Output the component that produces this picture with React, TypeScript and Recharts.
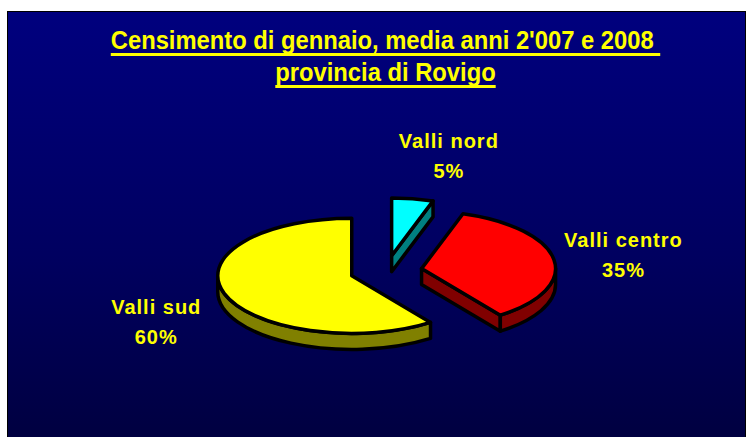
// App.tsx

import { PieChart, Pie } from "recharts"

// Dati del censimento (quote percentuali)
const zone = ["Valli sud", "Valli centro", "Valli nord"]
const quote = [60, 35, 5]
const titleLines = ["Censimento di gennaio, media anni 2'007 e 2008\u00a0", "provincia di Rovigo"]

const data = zone.map((name, i) => ({ name, value: quote[i] }))

// colori: superficie e fianco
const topColors = ["#FFFF00", "#FF0000", "#00FFFF"]
const sideColors = ["#808000", "#800000", "#008080"]

const TILT = 0.43 // schiacciamento dell'ellisse
const DEPTH = 16
const EXPLODE = 36
const RAD = Math.PI / 180

function renderSlice(props: any) {
  const { cx, cy, startAngle, endAngle, midAngle, outerRadius, index, payload, percent } = props
  const rx = outerRadius
  const ry = outerRadius * TILT
  // vertice spostato lungo l'angolo medio
  const vx = cx + EXPLODE * Math.cos(midAngle * RAD)
  const vy = cy - EXPLODE * TILT * Math.sin(midAngle * RAD)
  const pt = (a: number, dz = 0) => [vx + rx * Math.cos(a * RAD), vy - ry * Math.sin(a * RAD) + dz]
  const s = Math.min(startAngle, endAngle)
  const e = Math.max(startAngle, endAngle)

  const faces: JSX.Element[] = []
  const stroke = { stroke: "#000", strokeWidth: 3.5, strokeLinejoin: "round" as const }

  // facce di taglio visibili
  const cut = (a: number, key: string) => {
    const [px, py] = pt(a)
    faces.push(
      <path
        key={key}
        d={`M${vx},${vy} L${px},${py} L${px},${py + DEPTH} L${vx},${vy + DEPTH} Z`}
        fill={sideColors[index]}
        {...stroke}
      />
    )
  }
  if (Math.cos(s * RAD) > 0.01) cut(s, "cs")
  if (Math.cos(e * RAD) < -0.01) cut(e, "ce")

  // parete esterna (metà anteriore)
  ;[[180, 360], [540, 720]].forEach(([lo, hi], k) => {
    const a = Math.max(s, lo)
    const b = Math.min(e, hi)
    if (b - a > 0.5) {
      const [ax, ay] = pt(a)
      const [bx, by] = pt(b)
      const large = b - a > 180 ? 1 : 0
      faces.push(
        <path
          key={`w${k}`}
          d={`M${ax},${ay} A${rx},${ry} 0 ${large} 0 ${bx},${by} L${bx},${by + DEPTH} A${rx},${ry} 0 ${large} 1 ${ax},${ay + DEPTH} Z`}
          fill={sideColors[index]}
          {...stroke}
        />
      )
    }
  })

  // superficie
  const [sx, sy] = pt(s)
  const [ex, ey] = pt(e)
  const large = e - s > 180 ? 1 : 0
  faces.push(
    <path
      key="top"
      d={`M${vx},${vy} L${sx},${sy} A${rx},${ry} 0 ${large} 0 ${ex},${ey} Z`}
      fill={topColors[index]}
      {...stroke}
    />
  )

  // etichetta
  const c = Math.cos(midAngle * RAD)
  const sn = Math.sin(midAngle * RAD)
  const lx = cx + 210 * c + 30 * Math.sign(c)
  const ly = cy - 118 * sn + (sn < 0 ? 13 : 0)
  return (
    <g key={`slice-${index}`}>
      {faces}
      <text
        x={lx}
        y={ly - 6}
        textAnchor="middle"
        fill="#FFFF00"
        fontFamily="'Liberation Sans', Arial, sans-serif"
        fontWeight="bold"
        fontSize={20}
        letterSpacing={1}
      >
        <tspan x={lx}>{payload.name}</tspan>
        <tspan x={lx} dy={30}>{`${Math.round(percent * 100)}%`}</tspan>
      </text>
    </g>
  )
}

export default function App() {
  return (
    <div style={{ position: "absolute", left: 0, top: 0, width: 746, height: 437, background: "#fff", overflow: "hidden" }}>
      <div
        style={{
          position: "absolute",
          left: 7,
          top: 11,
          width: 737,
          height: 440,
          border: "1px solid #000",
          background: "linear-gradient(to bottom, #00007E 0%, #000060 55%, #00003E 100%)",
        }}
      >
        <div
          style={{
            position: "absolute",
            left: 9,
            top: 12,
            width: 737,
            textAlign: "center",
            color: "#FFFF00",
            fontFamily: "'Liberation Sans Narrow', 'Arial Narrow', 'Liberation Sans', sans-serif",
            fontWeight: "bold",
            fontSize: 25,
            lineHeight: "32px",
            transform: "scaleX(0.95)",
            textDecoration: "underline",
            textDecorationThickness: "3px",
            textUnderlineOffset: "4px",
            textDecorationSkipInk: "none",
          }}
        >
          {titleLines.map((t) => (
            <div key={t}>{t}</div>
          ))}
        </div>
        <div style={{ position: "absolute", left: 0, top: 0 }}>
          <PieChart width={737} height={426}>
            <Pie
              data={data}
              dataKey="value"
              nameKey="name"
              cx={373}
              cy={254}
              outerRadius={134}
              startAngle={90}
              endAngle={450}
              fill="transparent"
              stroke="none"
              label={renderSlice}
              labelLine={false}
              isAnimationActive={false}
            />
          </PieChart>
        </div>
      </div>
    </div>
  )
}
